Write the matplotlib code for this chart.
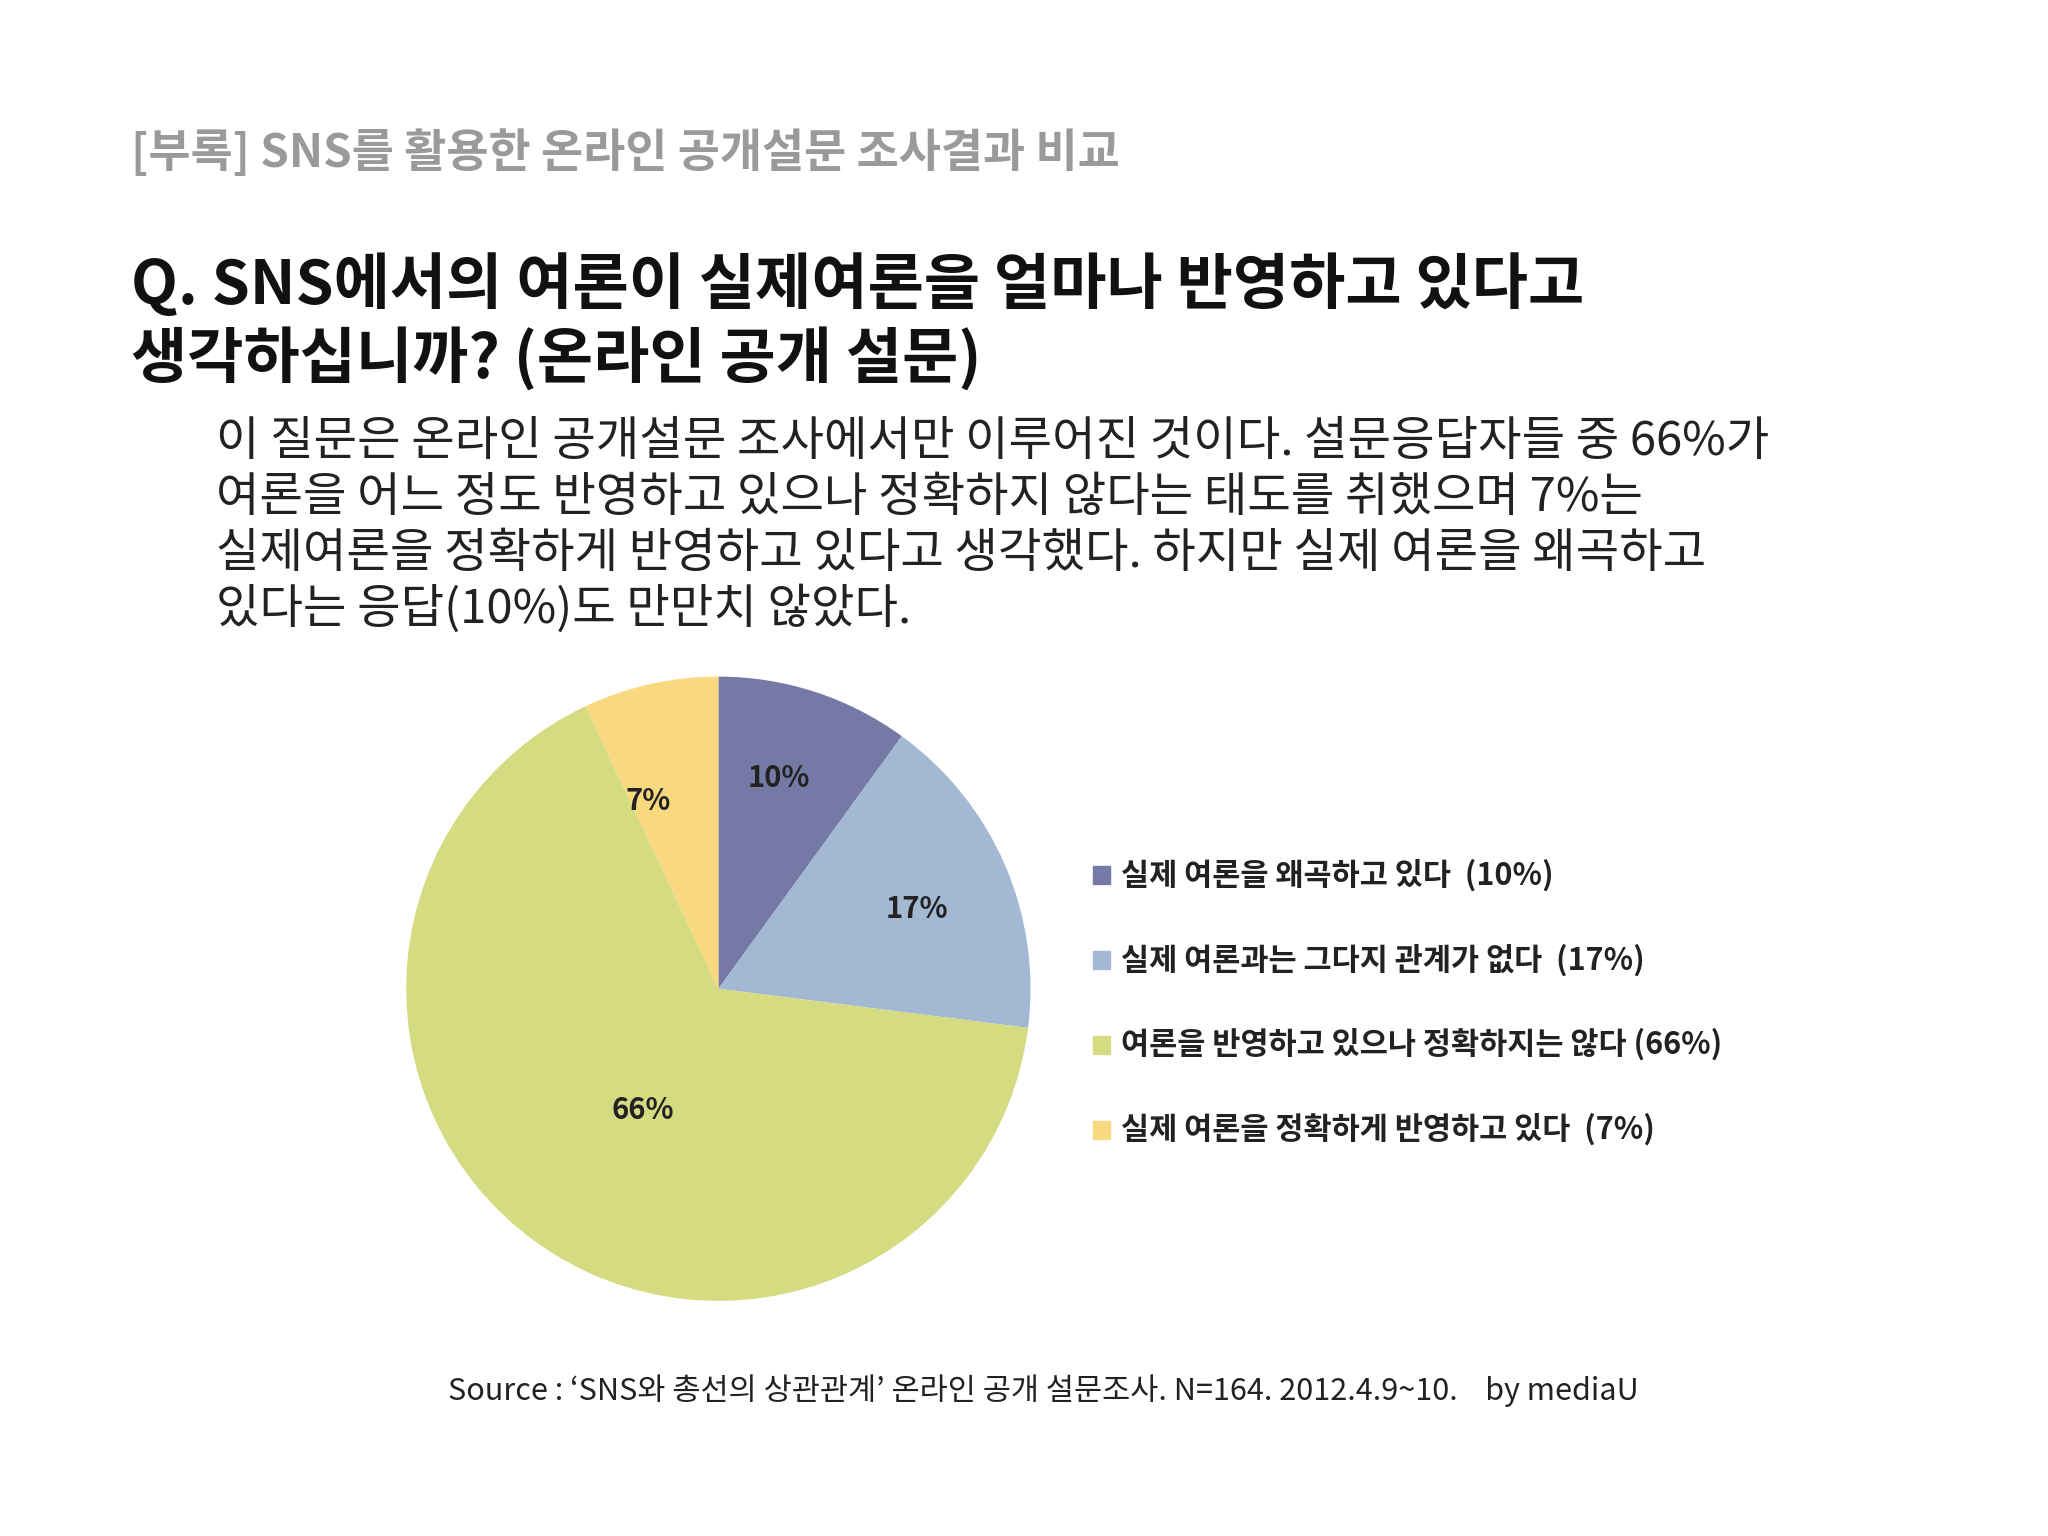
import matplotlib
matplotlib.use("Agg")
import matplotlib.pyplot as plt
from matplotlib.patches import Rectangle

plt.rcParams['font.family'] = ['Noto Sans CJK KR', 'DejaVu Sans']

labels = ["실제 여론을 왜곡하고 있다  (10%)", "실제 여론과는 그다지 관계가 없다  (17%)",
          "여론을 반영하고 있으나 정확하지는 않다 (66%)", "실제 여론을 정확하게 반영하고 있다  (7%)"]
values = [10, 17, 66, 7]
colors = ["#7579A5", "#A3B8D2", "#D4DB80", "#F9D97F"]
pct_labels = ["10%", "17%", "66%", "7%"]

W, H = 1568, 1176
fig = plt.figure(figsize=(20.48, 15.36), dpi=100)
def fx(x): return x / W
def fy(y): return 1 - y / H

fig.text(fx(100), fy(117), "[부록] SNS를 활용한 온라인 공개설문 조사결과 비교", fontsize=33,
         color="#9a9a9a", fontweight="bold", va="center")
fig.text(fx(100), fy(218), "Q. SNS에서의 여론이 실제여론을 얼마나 반영하고 있다고", fontsize=44,
         fontweight="bold", va="center", color="#111111")
fig.text(fx(100), fy(275), "생각하십니까? (온라인 공개 설문)", fontsize=44,
         fontweight="bold", va="center", color="#111111")
body = ["이 질문은 온라인 공개설문 조사에서만 이루어진 것이다. 설문응답자들 중 66%가",
        "여론을 어느 정도 반영하고 있으나 정확하지 않다는 태도를 취했으며 7%는",
        "실제여론을 정확하게 반영하고 있다고 생각했다. 하지만 실제 여론을 왜곡하고",
        "있다는 응답(10%)도 만만치 않았다."]
for i, line in enumerate(body):
    fig.text(fx(165), fy(338 + i * 43), line, fontsize=34, va="center", color="#222222")

ax = fig.add_axes([fx(311), fy(996), 478 / W, 478 / H])
ax.pie(values, colors=colors, startangle=90, counterclock=False, radius=1.0)
ax.set_xlim(-1, 1); ax.set_ylim(-1, 1); ax.set_aspect('auto')
ax.axis('off')

pct_pos = [(596, 596), (702, 696), (492, 850), (496, 613)]
for t, (x, y) in zip(pct_labels, pct_pos):
    fig.text(fx(x), fy(y), t, fontsize=21, fontweight="bold", ha="center", va="center", color="#222222")

for i, (lab, c) in enumerate(zip(labels, colors)):
    y = 670 + i * 65
    fig.patches.append(Rectangle((fx(837), fy(y + 7)), 13 / W, 14 / H, transform=fig.transFigure,
                                 color=c))
    fig.text(fx(858), fy(y), lab, fontsize=22, fontweight="bold", va="center", color="#222222")

fig.text(fx(343), fy(1065), "Source : ‘SNS와 총선의 상관관계’ 온라인 공개 설문조사. N=164. 2012.4.9~10.    by mediaU",
         fontsize=22, va="center", color="#222222")

fig.savefig("out.png", dpi=100, facecolor="white")
